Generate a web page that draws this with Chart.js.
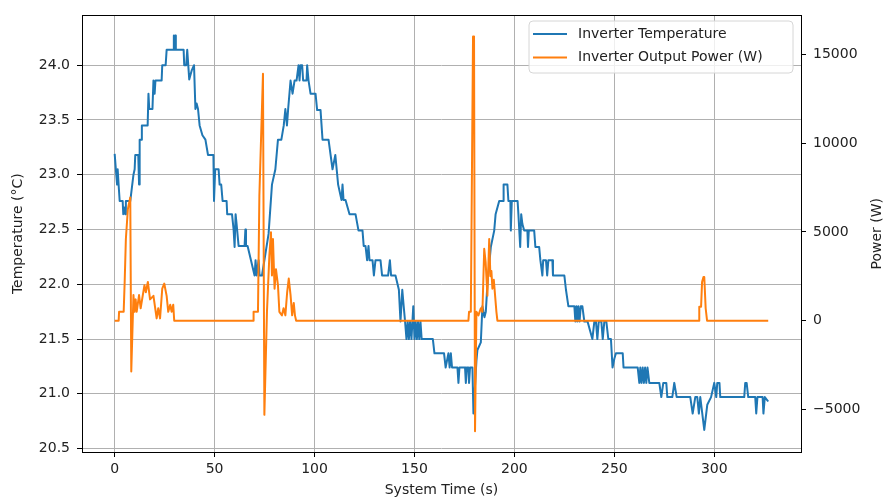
<!DOCTYPE html>
<html>
<head>
<meta charset="utf-8">
<script src="https://cdn.jsdelivr.net/npm/chart.js@4.4.1/dist/chart.umd.min.js"></script>
<style>
  html, body { margin: 0; padding: 0; background: #fff; }
  #wrap { width: 883px; height: 500px; }
</style>
</head>
<body>
<div id="wrap"><canvas id="chart" width="883" height="500"></canvas></div>
<script>
// Datos
const tempTime = [0, 0.8, 1.2, 1.5, 2.0, 2.5, 4.0, 4.3, 4.8, 5.3, 5.6, 7.8, 9.4, 10.0, 10.3, 11.8, 12.2, 12.5, 13.2, 13.6,
  16.5, 16.9, 17.3, 18.9, 19.4, 20.0, 20.4, 23.5, 23.8, 25.5, 26.0, 29.3, 29.6, 30.0, 30.3, 30.6, 34.5, 34.8, 35.8, 36.3,
  37.3, 38.5, 39.7, 40.4, 41.0, 41.7, 42.5, 43.9, 45.4, 46.7, 49.4, 49.7, 50.3, 52.0, 52.5, 53.3, 54.0, 56.0, 56.3, 58.7,
  59.5, 60.0, 60.5, 61.0, 62.0, 65.0, 65.4, 65.7, 66.5, 70.0, 70.5, 71.0, 72.0, 72.5, 73.7, 77.0, 78.7, 80.4, 81.7, 83.4,
  84.6, 85.4, 86.2, 86.8, 88.0, 89.0, 90.0, 91.0, 92.0, 92.5, 93.0, 93.8, 94.3, 96.0, 96.3, 97.0, 98.0, 100.5, 101.3, 103.0,
  104.0, 107.0, 109.0, 110.4, 111.8, 113.5, 114.0, 114.5, 115.5, 117.5, 120.5, 122.0, 124.0, 124.6, 125.5, 126.3, 127.0, 127.5, 129.0, 129.7,
  130.5, 133.0, 133.8, 136.8, 137.7, 138.3, 140.5, 142.2, 143.0, 143.9, 144.6, 145.3, 146.0, 146.6, 147.2, 147.8, 148.5, 149.4, 150.0, 150.6,
  151.2, 151.8, 152.4, 153.0, 153.6, 159.2, 160.0, 164.8, 165.6, 167.0, 167.6, 168.2, 168.8, 171.5, 172.0, 172.5, 175.3, 175.7, 176.2, 177.0,
  177.3, 177.8, 179.0, 179.5, 181.0, 181.5, 183.2, 184.0, 185.0, 185.7, 186.5, 188.2, 189.9, 190.6, 192.4, 194.4, 194.6, 196.5, 197.0, 198.0,
  198.2, 198.7, 201.6, 202.0, 202.9, 203.4, 204.0, 204.9, 206.5, 206.8, 207.2, 209.9, 210.5, 212.4, 213.0, 214.0, 214.4, 215.8, 216.4, 217.0,
  219.0, 219.3, 225.0, 225.8, 227.0, 230.0, 230.5, 231.0, 231.5, 232.0, 232.6, 233.2, 234.0, 235.0, 236.6, 239.0, 240.0, 240.8, 241.5, 242.2,
  243.5, 244.2, 245.0, 246.0, 247.0, 248.3, 249.1, 250.0, 250.8, 254.2, 254.6, 261.7, 262.5, 263.0, 263.6, 264.2, 264.8, 265.4, 266.0, 266.6,
  267.5, 272.5, 273.5, 274.5, 276.0, 276.5, 279.0, 280.0, 281.2, 288.0, 289.2, 290.5, 291.5, 292.3, 293.0, 295.0, 296.5, 298.4, 300.0, 301.0,
  301.5, 302.6, 303.0, 315.0, 315.5, 316.2, 317.0, 320.5, 321.0, 321.6, 324.2, 324.6, 325.3, 327.0];
const tempValues = [23.19, 23.0, 22.91, 23.05, 22.9, 22.76, 22.76, 22.64, 22.7, 22.64, 22.76, 22.76, 23.0, 23.05, 23.18, 23.18, 22.91, 23.32, 23.32, 23.45,
  23.45, 23.74, 23.6, 23.6, 23.86, 23.74, 23.86, 23.86, 24.0, 24.0, 24.14, 24.14, 24.27, 24.14, 24.27, 24.14, 24.14, 24.0, 24.0, 24.14,
  23.87, 23.95, 24.0, 23.6, 23.65, 23.6, 23.45, 23.36, 23.32, 23.18, 23.18, 22.76, 23.05, 23.05, 22.91, 22.91, 22.76, 22.76, 22.64, 22.64,
  22.5, 22.34, 22.64, 22.55, 22.35, 22.35, 22.5, 22.35, 22.35, 22.08, 22.22, 22.08, 22.22, 22.08, 22.08, 22.46, 22.91, 23.05, 23.32, 23.32,
  23.45, 23.6, 23.45, 23.6, 23.86, 23.74, 23.86, 23.86, 24.0, 23.86, 24.0, 24.0, 23.86, 23.86, 24.0, 23.86, 23.74, 23.74, 23.59, 23.59,
  23.32, 23.32, 23.05, 23.18, 22.91, 22.77, 22.91, 22.77, 22.77, 22.64, 22.64, 22.49, 22.49, 22.35, 22.35, 22.22, 22.35, 22.22, 22.22, 22.08,
  22.22, 22.22, 22.08, 22.08, 22.22, 22.08, 22.08, 21.95, 21.66, 21.95, 21.8, 21.66, 21.5, 21.66, 21.5, 21.66, 21.5, 21.8, 21.5, 21.66,
  21.5, 21.66, 21.5, 21.66, 21.5, 21.5, 21.37, 21.37, 21.24, 21.37, 21.24, 21.37, 21.24, 21.24, 21.1, 21.24, 21.24, 21.1, 21.24, 21.24,
  21.1, 21.24, 21.24, 20.82, 21.3, 21.4, 21.47, 21.8, 21.7, 21.75, 22.0, 22.34, 22.49, 22.64, 22.76, 22.76, 22.91, 22.91, 22.76, 22.76,
  22.49, 22.76, 22.76, 22.64, 22.34, 22.64, 22.55, 22.49, 22.49, 22.34, 22.49, 22.49, 22.34, 22.34, 22.22, 22.08, 22.22, 22.22, 22.08, 22.22,
  22.22, 22.08, 22.08, 21.95, 21.8, 21.8, 21.66, 21.8, 21.66, 21.8, 21.66, 21.8, 21.8, 21.66, 21.66, 21.5, 21.66, 21.66, 21.5, 21.66,
  21.66, 21.5, 21.66, 21.66, 21.5, 21.5, 21.24, 21.32, 21.37, 21.37, 21.24, 21.24, 21.1, 21.24, 21.1, 21.24, 21.1, 21.24, 21.1, 21.24,
  21.1, 21.1, 20.97, 21.1, 21.1, 20.97, 20.97, 21.1, 20.97, 20.97, 20.82, 20.97, 20.97, 20.82, 20.97, 20.67, 20.9, 20.97, 21.1, 20.97,
  21.1, 21.1, 20.97, 20.97, 21.1, 21.1, 20.97, 20.97, 20.82, 20.97, 20.97, 20.82, 20.97, 20.93];

const powerTime = [0, 2.0, 2.2, 4.5, 5.0, 5.6, 6.6, 7.8, 8.3, 9.4, 9.9, 10.5, 11.0, 12.2, 13.0, 14.9, 15.6, 16.6, 17.7, 19.4,
  21.0, 21.8, 22.7, 23.8, 24.8, 26.0, 26.8, 27.8, 28.5, 29.3, 29.8, 69.3, 69.5, 71.7, 72.4, 74.2, 74.9, 76.2, 77.4, 78.2,
  78.7, 79.2, 80.0, 80.7, 81.7, 82.4, 83.7, 84.5, 85.4, 86.3, 87.1, 88.0, 88.8, 89.6, 90.2, 90.8, 177.0, 177.3, 178.2, 179.3,
  179.8, 180.3, 181.0, 182.0, 183.2, 184.0, 184.9, 185.6, 186.5, 187.4, 188.0, 188.5, 189.0, 189.7, 191.0, 191.5, 292.4, 292.5, 293.4, 293.9,
  294.6, 295.0, 295.7, 296.4, 327.0];
const powerValues = [0, 0, 500, 500, 2180, 4600, 6290, 6940, -2860, 1440, 500, 1200, 500, 1440, 700, 2000, 1600, 2180, 1200, 1400,
  130, 700, 130, 1800, 2090, 1400, 500, 900, 500, 900, 0, 0, 500, 500, 7030, 13900, -5300, 500, 3680, 4980,
  2550, 4600, 1800, 2900, 2000, 500, 300, 700, 300, 1600, 2370, 1440, 300, 1000, 300, 0, 0, 500, 500, 16000,
  16000, -6220, 500, 300, 700, 500, 4050, 3300, 1400, 4600, 2500, 2800, 1800, 2300, 500, 0, 0, 780, 780, 2180,
  2460, 2460, 700, 0, 0];

const xTicks = [0, 50, 100, 150, 200, 250, 300];
const tempTicks = [20.5, 21.0, 21.5, 22.0, 22.5, 23.0, 23.5, 24.0];
const powerTicks = [-5000, 0, 5000, 10000, 15000];

const FONT = "'DejaVu Sans', sans-serif";

// Marco de los ejes, título derecho y leyenda
const framePlugin = {
  id: 'frame',
  afterDatasetsDraw(chart) {
    const { ctx, chartArea: a } = chart;
    ctx.save();
    ctx.strokeStyle = '#000';
    ctx.lineWidth = 1;
    ctx.strokeRect(Math.round(a.left) + 0.5, Math.round(a.top) + 0.5,
      Math.round(a.right - a.left), Math.round(a.bottom - a.top));

    // título eje derecho (rotado -90)
    ctx.fillStyle = '#222';
    ctx.font = '14px ' + FONT;
    ctx.textAlign = 'center';
    ctx.textBaseline = 'middle';
    ctx.translate(877, (a.top + a.bottom) / 2);
    ctx.rotate(-Math.PI / 2);
    ctx.fillText('Power (W)', 0, 0);
    ctx.restore();

    // leyenda
    ctx.save();
    const bx = 529, by = 21, bw = 264, bh = 52, r = 4;
    ctx.beginPath();
    ctx.moveTo(bx + r, by);
    ctx.arcTo(bx + bw, by, bx + bw, by + bh, r);
    ctx.arcTo(bx + bw, by + bh, bx, by + bh, r);
    ctx.arcTo(bx, by + bh, bx, by, r);
    ctx.arcTo(bx, by, bx + bw, by, r);
    ctx.closePath();
    ctx.fillStyle = 'rgba(255,255,255,0.8)';
    ctx.fill();
    ctx.strokeStyle = '#d6d6d6';
    ctx.lineWidth = 1;
    ctx.stroke();
    const items = [chart.data.datasets[1], chart.data.datasets[0]];
    items.forEach((ds, i) => {
      const y = 34 + i * 23.5;
      ctx.strokeStyle = ds.borderColor;
      ctx.lineWidth = 2;
      ctx.beginPath();
      ctx.moveTo(533, y);
      ctx.lineTo(567, y);
      ctx.stroke();
      ctx.fillStyle = '#222';
      ctx.font = '14px ' + FONT;
      ctx.textAlign = 'left';
      ctx.textBaseline = 'middle';
      ctx.fillText(ds.label, 578, y);
    });
    ctx.restore();
  }
};

const canvas = document.getElementById('chart');
new Chart(canvas.getContext('2d'), {
  type: 'line',
  data: {
    datasets: [
      {
        label: 'Inverter Output Power (W)',
        data: powerTime.map((t, i) => ({ x: t, y: powerValues[i] })),
        borderColor: '#ff7f0e',
        borderWidth: 2,
        yAxisID: 'y1',
        order: 0
      },
      {
        label: 'Inverter Temperature',
        data: tempTime.map((t, i) => ({ x: t, y: tempValues[i] })),
        borderColor: '#1f77b4',
        borderWidth: 2,
        yAxisID: 'y',
        order: 1
      }
    ]
  },
  options: {
    responsive: false,
    animation: false,
    devicePixelRatio: 1,
    layout: { padding: { top: 12, left: 0, right: 0, bottom: 0 } },
    elements: { point: { radius: 0 }, line: { tension: 0, borderJoinStyle: 'round', borderCapStyle: 'butt' } },
    plugins: { legend: { display: false }, tooltip: { enabled: false } },
    scales: {
      x: {
        type: 'linear',
        min: -16.35,
        max: 343.4,
        afterBuildTicks: s => { s.ticks = xTicks.map(v => ({ value: v })); },
        afterFit: s => { s.height = 48; },
        grid: { color: '#b0b0b0', lineWidth: 1, tickColor: '#000', tickLength: 5, drawTicks: true },
        border: { display: false },
        ticks: { color: '#222', font: { family: FONT, size: 14 }, padding: 4, maxRotation: 0 },
        title: { display: true, text: 'System Time (s)', color: '#222', font: { family: FONT, size: 14 }, padding: { top: 0, bottom: 1 } }
      },
      y: {
        type: 'linear',
        position: 'left',
        min: 20.469,
        max: 24.4545,
        afterBuildTicks: s => { s.ticks = tempTicks.map(v => ({ value: v })); },
        afterFit: s => { s.width = 82; },
        grid: { color: '#b0b0b0', lineWidth: 1, tickColor: '#000', tickLength: 5 },
        border: { display: false },
        ticks: { color: '#222', font: { family: FONT, size: 14 }, padding: 7, callback: v => v.toFixed(1) },
        title: { display: true, text: 'Temperature (°C)', color: '#222', font: { family: FONT, size: 14 }, padding: 10 }
      },
      y1: {
        type: 'linear',
        position: 'right',
        min: -7391,
        max: 17184,
        afterBuildTicks: s => { s.ticks = powerTicks.map(v => ({ value: v })); },
        afterFit: s => { s.width = 82; },
        grid: { drawOnChartArea: false, tickColor: '#000', tickLength: 5 },
        border: { display: false },
        ticks: { color: '#222', font: { family: FONT, size: 14 }, padding: 7, callback: v => String(v).replace('-', '\u2212') }
      }
    }
  },
  plugins: [framePlugin]
});
</script>
</body>
</html>
